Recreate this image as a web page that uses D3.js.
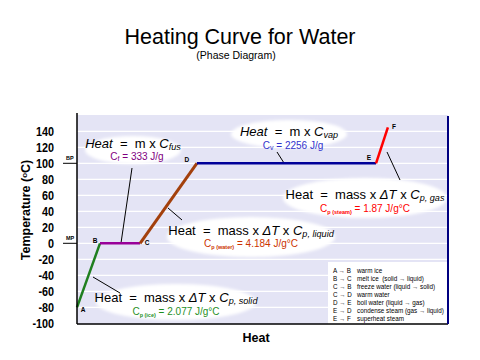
<!DOCTYPE html>
<html>
<head>
<meta charset="utf-8">
<script src="https://cdn.jsdelivr.net/npm/d3@7"></script>
<style>
  body { margin: 0; background: #fff; }
  svg { display: block; font-family: Arial, "Liberation Sans", sans-serif; }
  text { white-space: pre; }
</style>
</head>
<body>
<svg width="480" height="360"></svg>
<script>
// heating curve points (heat in arbitrary units, temperature in °C)
const pointNames = ["A", "B", "C", "D", "E", "F"];
const heatValues = [0, 6.2, 17.0, 32.3, 80.6, 83.8];
const tempValues = [-80, 0, 0, 100, 100, 145];
const segmentColors = ["#1f7f1f", "#990099", "#a3400c", "#000099", "#ff0000"];

const yTicks = [-100, -80, -60, -40, -20, 0, 20, 40, 60, 80, 100, 120, 140];
const gridTemps = [-80, -60, -40, -20, 0, 20, 40, 60, 80, 100, 120, 140];
const markers = [{label: "MP", t: 0}, {label: "BP", t: 100}];

const legendFrom = ["A → B", "B → C", "C → B", "C → D", "D → E", "E → D", "E → F"];
const legendText = ["warm ice", "melt ice  (solid → liquid)", "freeze water (liquid → solid)",
    "warm water", "boil water (liquid → gas)", "condense steam (gas → liquid)", "superheat steam"];

const svg = d3.select("svg");
const pL = 77, pR = 448, pT = 115, pB = 324;

const x = d3.scaleLinear().domain([0, 100]).range([pL, pR]);
const y = d3.scaleLinear().domain([-100, 160]).range([323.3, 115.3]);

const defs = svg.append("defs");
defs.append("filter").attr("id", "soft")
    .attr("x", "-20%").attr("y", "-40%").attr("width", "140%").attr("height", "180%")
    .append("feGaussianBlur").attr("stdDeviation", 1.4);

// titles
svg.append("text").attr("x", 240).attr("y", 44).attr("text-anchor", "middle")
    .attr("font-size", 21.5).text("Heating Curve for Water");
svg.append("text").attr("x", 236).attr("y", 59).attr("text-anchor", "middle")
    .attr("font-size", 10.5).text("(Phase Diagram)");

// plot background + grid
svg.append("rect").attr("x", pL).attr("y", pT).attr("width", pR - pL).attr("height", pB - pT)
    .attr("fill", "#e4e4f5");
svg.append("g").selectAll("line").data(gridTemps).enter().append("line")
    .attr("x1", pL).attr("x2", pR)
    .attr("y1", d => y(d)).attr("y2", d => y(d))
    .attr("stroke", "#fff").attr("stroke-width", 1.2);

// legend box
const lg = svg.append("g");
lg.append("rect").attr("x", 328).attr("y", 262).attr("width", pR - 328).attr("height", pB - 262)
    .attr("fill", "#fff");
lg.selectAll("text.from").data(legendFrom).enter().append("text")
    .attr("x", 333).attr("y", (d, i) => 272.5 + i * 8)
    .attr("font-size", 6.3).text(d => d);
lg.selectAll("text.desc").data(legendText).enter().append("text")
    .attr("x", 357).attr("y", (d, i) => 272.5 + i * 8)
    .attr("font-size", 6.3).text(d => d);

// annotations: ellipse, pointer line, equation and constant
const notes = [
  {cx: 133, cy: 150, rx: 48, ry: 14, line: [132, 168, 121, 243],
   eq: [["Heat", "i"], ["  =  m x ", ""], ["C", "i"], ["fus", "is"]],
   c: [["C", ""], ["f", "s"], [" = 333 J/g", ""]], color: "#800080", ey: 148, cyy: 160},
  {cx: 289, cy: 134, rx: 58, ry: 14, line: [277, 152, 284, 163],
   eq: [["Heat", "i"], ["  =  m x ", ""], ["C", "i"], ["vap", "is"]],
   c: [["C", ""], ["v", "s"], [" = 2256 J/g", ""]], color: "#3333cc", ey: 136, cyy: 149},
  {cx: 365, cy: 198, rx: 82, ry: 20, line: [387, 152, 400, 180],
   eq: [["Heat  =  mass x ", ""], ["ΔT", "i"], [" x ", ""], ["C", "i"], ["p, gas", "is"]],
   c: [["C", ""], ["p (steam)", "t"], [" = 1.87 J/g°C", ""]], color: "#ff0000", ey: 199, cyy: 212},
  {cx: 251, cy: 237, rx: 84, ry: 20, line: [168, 208, 182, 220],
   eq: [["Heat  =  mass x ", ""], ["ΔT", "i"], [" x ", ""], ["C", "i"], ["p, liquid", "is"]],
   c: [["C", ""], ["p (water)", "t"], [" = 4.184 J/g°C", ""]], color: "#cc3300", ey: 235, cyy: 247},
  {cx: 176, cy: 302, rx: 80, ry: 18, line: [93, 277, 120, 293],
   eq: [["Heat  =  mass x ", ""], ["ΔT", "i"], [" x ", ""], ["C", "i"], ["p, solid", "is"]],
   c: [["C", ""], ["p (ice)", "t"], [" = 2.077 J/g°C", ""]], color: "#1f8f1f", ey: 302, cyy: 315}
];

const ng = svg.append("g");
notes.forEach(n => {
  ng.append("ellipse").attr("cx", n.cx).attr("cy", n.cy).attr("rx", n.rx).attr("ry", n.ry)
      .attr("fill", "#fff").attr("filter", "url(#soft)");
});
notes.forEach(n => {
  ng.append("line").attr("x1", n.line[0]).attr("y1", n.line[1]).attr("x2", n.line[2]).attr("y2", n.line[3])
      .attr("stroke", "#000").attr("stroke-width", 1);
});

// curve segments
const pts = heatValues.map((h, i) => ({name: pointNames[i], h: h, t: tempValues[i]}));
const segs = d3.pairs(pts);
svg.append("g").selectAll("line").data(segs).enter().append("line")
    .attr("x1", d => x(d[0].h)).attr("y1", d => y(d[0].t))
    .attr("x2", d => x(d[1].h)).attr("y2", d => y(d[1].t))
    .attr("stroke", (d, i) => segmentColors[i])
    .attr("stroke-width", (d, i) => i === 2 ? 3 : 2.5);

function styled(t, parts, size) {
  parts.forEach(p => {
    const ts = t.append("tspan").text(p[0]);
    if (p[1].includes("i")) ts.attr("font-style", "italic");
    if (p[1].includes("s")) ts.attr("font-size", size * 0.7).attr("baseline-shift", "-20%");
    if (p[1].includes("t")) ts.attr("font-size", size * 0.55).attr("font-weight", "bold").attr("baseline-shift", "-30%");
  });
}

notes.forEach(n => {
  const t = ng.append("text").attr("x", n.cx).attr("y", n.ey).attr("text-anchor", "middle")
      .attr("font-size", 13);
  styled(t, n.eq, 13);
  const c = ng.append("text").attr("x", n.cx + (n.c[1][1] === "s" ? 4 : 0)).attr("y", n.cyy)
      .attr("text-anchor", "middle").attr("font-size", 10).attr("fill", n.color);
  styled(c, n.c, 10);
});

// axes lines
svg.append("line").attr("x1", pL).attr("x2", pL).attr("y1", pT - 2).attr("y2", pB)
    .attr("stroke", "#000").attr("stroke-width", 1.5);
svg.append("line").attr("x1", pL).attr("x2", pR).attr("y1", pB).attr("y2", pB)
    .attr("stroke", "#000").attr("stroke-width", 1.5);
svg.append("line").attr("x1", pR).attr("x2", pR).attr("y1", pT + 1).attr("y2", pB)
    .attr("stroke", "#000080").attr("stroke-width", 2);

// y tick labels (condensed bold)
svg.append("g").selectAll("text").data(yTicks).enter().append("text")
    .attr("transform", d => `translate(54,${y(d) + 4.5}) scale(0.8,1)`)
    .attr("text-anchor", "end")
    .attr("font-weight", "bold").attr("font-size", 13.5).text(d => d);

// MP / BP markers
const mk = svg.append("g").selectAll("g").data(markers).enter().append("g");
mk.append("line").attr("x1", 63).attr("x2", pL).attr("y1", d => y(d.t)).attr("y2", d => y(d.t))
    .attr("stroke", "#000").attr("stroke-width", 1);
mk.append("text").attr("x", 66).attr("y", d => y(d.t) - 3).attr("font-size", 5.5)
    .attr("font-weight", "bold").text(d => d.label);

// point letters
const letterOffsets = {A: [6, 5], B: [-5, 0], C: [7, 2], D: [-10, -1], E: [-7, -3], F: [6, 2]};
svg.append("g").selectAll("text").data(pts).enter().append("text")
    .attr("x", d => x(d.h) + letterOffsets[d.name][0])
    .attr("y", d => y(d.t) + letterOffsets[d.name][1])
    .attr("text-anchor", "middle").attr("font-size", 6.5).attr("font-weight", "bold")
    .text(d => d.name);

// axis titles
const yt = svg.append("text").attr("transform", "translate(30,210) rotate(-90)")
    .attr("text-anchor", "middle").attr("font-size", 12.5).attr("font-weight", "bold");
yt.append("tspan").text("Temperature (");
yt.append("tspan").attr("font-size", 8).attr("baseline-shift", "40%").text("o");
yt.append("tspan").text("C)");

svg.append("text").attr("x", 256).attr("y", 342).attr("text-anchor", "middle")
    .attr("font-size", 12.5).attr("font-weight", "bold").text("Heat");
</script>
</body>
</html>
